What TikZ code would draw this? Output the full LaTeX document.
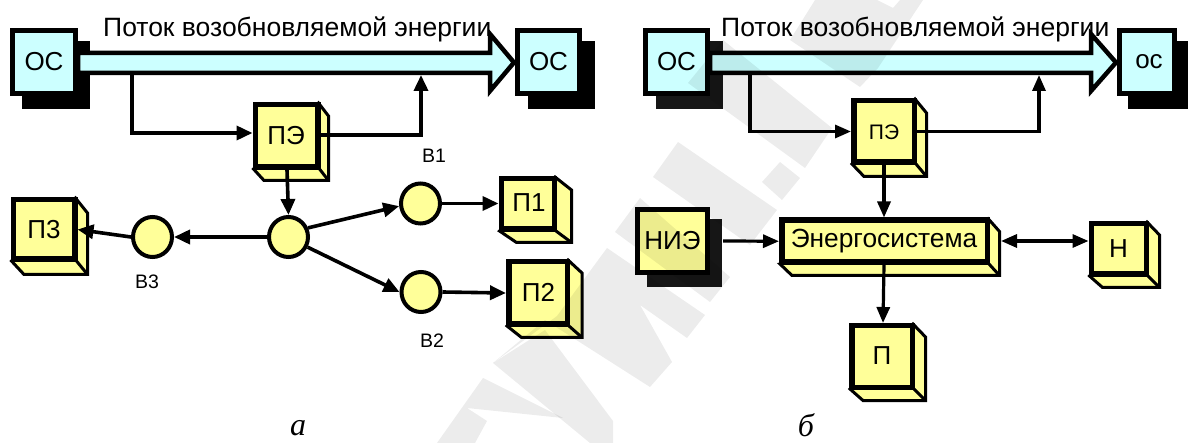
\documentclass[tikz,border=0pt]{standalone}
\usepackage{fontspec}
\setmainfont{Liberation Sans}
\newfontfamily\capfont{Liberation Serif}
\usetikzlibrary{arrows.meta,calc,shapes.geometric}
\definecolor{boxyellow}{HTML}{FFFF99}
\definecolor{boxcyan}{HTML}{CCFFFF}
\definecolor{softblack}{HTML}{161616}
\tikzset{
  x=1pt,y=-1pt,
  front/.style={draw=black,line width=5.5pt,fill=boxyellow,inner sep=0pt,align=center},
  sidefaces/.style={draw=black,line width=3pt,fill=boxyellow,line join=miter},
  cyanbox/.style={draw=black,line width=5pt,fill=boxcyan,inner sep=0pt},
  disc/.style={ellipse,draw=black,line width=4pt,fill=boxyellow,inner sep=0pt,minimum width=39pt,minimum height=40pt},
  conn/.style={draw=black,line width=3.6pt,-{Triangle[length=16pt,width=14pt]}},
  connb/.style={draw=black,line width=3.2pt,-{Triangle[length=16pt,width=13pt]}},
  flowarrow/.style={draw=black,line width=4.5pt,fill=boxcyan,miter limit=10},
  lbl/.style={inner sep=0pt,font=\fontsize{26}{26}\selectfont},
  smalllbl/.style={inner sep=0pt,font=\fontsize{19.5}{20}\selectfont},
  flowlbl/.style={inner sep=0pt,font=\fontsize{26.5}{27}\selectfont},
  capt/.style={inner sep=0pt,font=\fontsize{32}{32}\selectfont\capfont\itshape},
  wmark/.style={fill=black,fill opacity=0.075,draw=none},
}
% name, x0,y0 (front outer top-left), x1,y1 (front outer bottom-right), x2,y2 (depth extents)
\newcommand{\cubebox}[7]{%
  \draw[sidefaces] ({#4-2},{#3+1}) -- ({#6-1.5},{#3+#7-#5+2}) -- ({#6-1.5},{#7-1.5})
     -- ({#2+#6-#4+2},{#7-1.5}) -- ({#2+1},{#5-1}) -- cycle;
  \draw[black,line width=3pt] ({#4-1},{#5-1}) -- ({#6-1.5},{#7-1.5});
  \node[front,minimum width={#4-#2-5.5},minimum height={#5-#3-5.5}] (#1) at ({(#2+#4)/2},{(#3+#5)/2}) {};
}
% colour, x0,y0,x1,y1 of the box, shadow offset dx,dy
\newcommand{\dropshadow}[7]{%
  \fill[#1] ({#2+#6},{#3+#7}) rectangle ({#4+#6},{#5+#7});
}
\begin{document}
\begin{tikzpicture}
\useasboundingbox (0,0) rectangle (1188,443);
\fill[white] (0,0) rectangle (1188,443);

% ---------- panel a ----------
\dropshadow{black}{10}{28}{78}{96}{12}{13}
\dropshadow{black}{515}{28}{582}{96}{13}{13}
\draw[flowarrow] (78,53) -- (490,53) -- (490,34) -- (514,62.5) -- (490,91) -- (490,73) -- (78,73) -- cycle;
\coordinate (atap) at (132,73);
\coordinate (aret) at (421,75);
\node[cyanbox,minimum width=63pt,minimum height=63pt] (osal) at (44,62) {};
\node[lbl] at (osal.center) {ОС};
\node[cyanbox,minimum width=62pt,minimum height=63pt] (osar) at (548.5,62) {};
\node[lbl] at (osar.center) {ОС};
\node[flowlbl,anchor=west] (flowa) at (103,29) {Поток возобновляемой энергии};

\cubebox{pea}{252.5}{102}{320.5}{170}{330}{182}
\node[lbl] at (286,136) {ПЭ};
\node[disc] (hub) at (288.5,237) {};
\node[disc] (b1) at (420.5,203.5) {};
\node[disc] (b2) at (421,292) {};
\node[disc] (b3) at (152.5,237) {};
\cubebox{p1}{498.5}{176}{557}{232}{573}{244}
\node[lbl] at (529,203) {П1};
\cubebox{p2}{506}{259}{570}{327}{583.5}{339}
\node[lbl] at (538.5,292) {П2};
\cubebox{p3}{10.5}{197}{77.5}{262}{89}{276}
\node[lbl] at (44,230) {П3};
\node[smalllbl] (lb1) at (434,156) {В1};
\node[smalllbl] (lb2) at (432,341) {В2};
\node[smalllbl] (lb3) at (147,282) {В3};

\draw[conn] (atap) |- ($(pea.west)+(0,-3)$);
\draw[conn] ($(pea.east)+(0,-1)$) -| (aret);
\draw[conn] (287,170) -- (hub.north);
\draw[conn] (hub.west) -- (b3.east);
\draw[conn] (b3.west) -- (p3.east);
\draw[conn] (hub.25) -- (b1.187);
\draw[conn] (hub.-28) -- (b2.180);
\draw[conn] (b1.east) -- (p1.west |- b1.east);
\draw[conn] (b2.east) -- (p2.west);
\node[capt] (capa) at (298,428) {а};

% ---------- panel b ----------
\dropshadow{softblack}{643}{28}{710}{96}{13}{13}
\dropshadow{black}{1117}{28}{1177}{96}{11}{13}
\draw[flowarrow] (710,53) -- (1091,53) -- (1091,34) -- (1116,62.5) -- (1091,91) -- (1091,73) -- (710,73) -- cycle;
\coordinate (btap) at (750,73);
\coordinate (bret) at (1039,75);
\node[cyanbox,minimum width=62pt,minimum height=63pt] (osbl) at (676.5,62) {};
\node[lbl] at (osbl.center) {ОС};
\node[cyanbox,minimum width=55pt,minimum height=63pt] (osbr) at (1147,62) {};
\node[inner sep=0pt,font=\fontsize{26}{26}\selectfont] at (1149,62) {ос};
\node[flowlbl,anchor=west] (flowb) at (721,29) {Поток возобновляемой энергии};

\cubebox{peb}{851}{98}{917}{165}{928}{178}
\node[inner sep=0pt,font=\fontsize{21}{21}\selectfont] at (884,132) {ПЭ};
\cubebox{es}{779}{217.5}{990}{265}{1001}{277}
\node[inner sep=0pt,font=\fontsize{26.3}{27}\selectfont] (estext) at (884,241) {Энергосистема};
\dropshadow{softblack}{635}{207}{710}{275}{12}{12}
\node[cyanbox,fill=boxyellow,minimum width=70pt,minimum height=63pt] (nie) at (672.5,241) {};
\node[lbl] at (nie.center) {НИЭ};
\cubebox{n}{1088.5}{221}{1149}{277}{1161}{289}
\node[lbl] at (1118.5,249) {Н};
\cubebox{p}{849}{323}{915}{390}{927}{402}
\node[lbl] at (882,356) {П};

\draw[connb] (btap) |- (peb.west);
\draw[connb] (peb.east) -| (bret);
\draw[connb] (884,165) -- (es.north -| 884,0);
\draw[connb] (723,241) -- (es.west);
\draw[draw=black,line width=3.2pt,{Triangle[length=16pt,width=13pt]}-{Triangle[length=16pt,width=13pt]}] (1001,241) -- (n.west |- 0,241);
\draw[connb] (884,265) -- (p.north -| 883,0);
\node[capt] (capb) at (806,425) {б};

% ---------- pale diagonal watermark ----------
\fill[wmark] (815,0) -- (877,0) -- (893,8) -- (900,0) -- (923,0) -- (878,68) -- (860,87) -- (790,40) -- cycle;
\fill[wmark] (688,83) -- (723,40) -- (832,128) -- (805,168) -- cycle;
\fill[wmark] (653,177) -- (678,142) -- (777,210) -- (750,245) -- cycle;
\fill[wmark] (762,182) -- (780,162) -- (800,178) -- (782,200) -- cycle;
\fill[wmark] (615,232) -- (640,198) -- (730,277) -- (710,302) -- cycle;
\fill[wmark] (493,363) -- (557,316) -- (607,248) -- (705,315) -- (687,338) -- (640,305) -- (672,362) -- (650,387) -- (545,320) -- cycle;
\fill[wmark] (437,443) -- (483,378) -- (563,418) -- (467,408) -- (487,421) -- (475,443) -- cycle;
\fill[wmark] (493,363) -- (545,330) -- (613,421) -- (613,443) -- (590,443) -- cycle;
\end{tikzpicture}
\end{document}
